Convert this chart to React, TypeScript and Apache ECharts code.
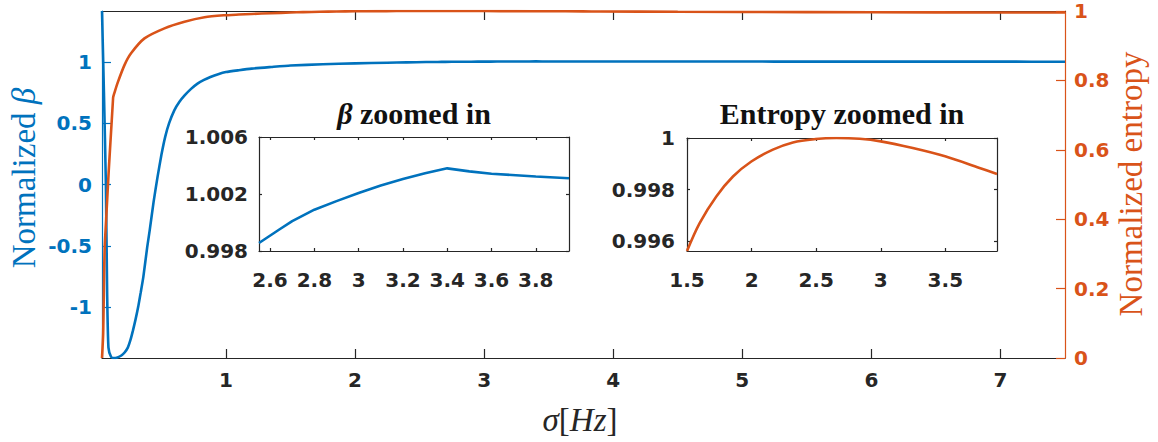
import React, { useEffect, useRef } from "react";
import * as echarts from "echarts";

// Normalized β against σ [Hz]
const betaSigma = [
  0.04, 0.055, 0.07, 0.08, 0.09, 0.11, 0.13, 0.16, 0.19, 0.215, 0.24, 0.26, 0.28, 0.3, 0.32, 0.34,
  0.36, 0.39, 0.41, 0.44, 0.47, 0.5, 0.53, 0.56, 0.6, 0.64, 0.68, 0.73, 0.78, 0.83, 0.88, 0.94,
  1.0, 1.1, 1.2, 1.35, 1.5, 1.75, 2.0, 2.25, 2.4, 2.55, 2.64, 2.7, 2.8, 2.9, 3.0, 3.1, 3.2, 3.3,
  3.4, 3.5, 3.6, 3.8, 3.95, 4.5, 5.0, 5.5, 6.0, 6.5, 7.0, 7.5,
];
const betaValues = [
  1.415, 0.75, 0.0, -0.9, -1.33, -1.405, -1.415, -1.41, -1.395, -1.37, -1.33, -1.27, -1.19, -1.1, -1.0, -0.88,
  -0.755, -0.513, -0.37, -0.14, 0.06, 0.24, 0.39, 0.5, 0.605, 0.675, 0.727, 0.78, 0.823, 0.853, 0.877, 0.9,
  0.917, 0.932, 0.945, 0.958, 0.97, 0.981, 0.988, 0.9935, 0.9962, 0.99856, 0.99949, 1.0001, 1.0009, 1.0015, 1.00207, 1.0026, 1.00305, 1.00345,
  1.0038, 1.00359, 1.00342, 1.00323, 1.0031, 1.0028, 1.0026, 1.0024, 1.0022, 1.002, 1.0018, 1.0016,
];

// Normalized entropy against σ [Hz]
const entropySigma = [
  0.04, 0.049, 0.062, 0.126, 0.137, 0.163, 0.214, 0.265, 0.369, 0.524, 0.679, 0.834, 0.983, 1.1, 1.2, 1.35,
  1.5, 1.598, 1.727, 1.856, 1.998, 2.165, 2.32, 2.495, 2.655, 2.837, 3.0, 3.248, 3.498, 3.765, 3.9,
  4.5, 5.5, 6.5, 7.5,
];
const entropyValues = [
  0, 0.07, 0.33, 0.75, 0.765, 0.795, 0.844, 0.878, 0.921, 0.95, 0.969, 0.982, 0.9876, 0.9898, 0.9915, 0.9937,
  0.99563, 0.99671, 0.99774, 0.99851, 0.99909, 0.99955, 0.99983, 0.99996, 1.0, 0.99997, 0.99987, 0.99961, 0.99929, 0.99884, 0.99861,
  0.9977, 0.9968, 0.9961, 0.9955,
];

// Tick positions
const sigmaTicks = [1, 2, 3, 4, 5, 6, 7];
const betaTicks = [-1, -0.5, 0, 0.5, 1];
const entropyTicks = [0, 0.2, 0.4, 0.6, 0.8, 1];
const betaZoomSigmaTicks = [2.6, 2.8, 3, 3.2, 3.4, 3.6, 3.8];
const betaZoomTicks = [0.998, 1.002, 1.006];
const entropyZoomSigmaTicks = [1.5, 2, 2.5, 3, 3.5];
const entropyZoomTicks = [0.996, 0.998, 1];

const BLUE = "#0072BD";
const ORANGE = "#D95319";
const DARK = "#262626";
const TICK_FONT = "DejaVu Sans";
const SERIF = "Liberation Serif";

const pairs = (xs: number[], ys: number[]) => xs.map((x, i) => [x, ys[i]]);
const within = (pts: number[][], lo: number, hi: number) =>
  pts.filter((p) => p[0] >= lo - 1e-9 && p[0] <= hi + 1e-9);
const fmt = (v: number) => String(+Number(v).toFixed(4));

type AxisOpts = {
  gridIndex: number;
  min: number;
  max: number;
  ticks: number[];
  position: string;
  color: string;
  tickLen: number;
  labels: boolean;
  margin?: number;
};

const makeAxis = (o: AxisOpts) => ({
  type: "value",
  gridIndex: o.gridIndex,
  position: o.position,
  min: o.min,
  max: o.max,
  z: 10,
  splitLine: { show: false },
  axisLine: { show: true, onZero: false, lineStyle: { color: o.color, width: 1.2 } },
  axisTick: {
    show: true,
    inside: true,
    length: o.tickLen,
    customValues: o.ticks,
    lineStyle: { color: o.color, width: 1.2 },
  },
  axisLabel: {
    show: o.labels,
    customValues: o.ticks,
    margin: o.margin ?? 8,
    color: o.color,
    fontFamily: TICK_FONT,
    fontWeight: "bold",
    fontSize: 20,
    formatter: (v: number) => fmt(v),
  },
});

export default function App() {
  const ref = useRef<HTMLDivElement>(null);

  useEffect(() => {
    if (!ref.current) return;
    const chart = echarts.init(ref.current, undefined, { renderer: "svg" });

    const betaPts = pairs(betaSigma, betaValues);
    const entropyPts = pairs(entropySigma, entropyValues);

    const option = {
      animation: false,
      backgroundColor: "#ffffff",
      grid: [
        { left: 102, top: 11, width: 963, height: 347, show: false },
        { left: 259, top: 137, width: 310, height: 114, show: true, backgroundColor: "#ffffff", borderWidth: 0 },
        { left: 687, top: 138, width: 310, height: 113, show: true, backgroundColor: "#ffffff", borderWidth: 0 },
      ],
      xAxis: [
        makeAxis({ gridIndex: 0, min: 0.04, max: 7.5, ticks: sigmaTicks, position: "bottom", color: DARK, tickLen: 9, labels: true, margin: 12 }),
        makeAxis({ gridIndex: 0, min: 0.04, max: 7.5, ticks: sigmaTicks, position: "top", color: DARK, tickLen: 9, labels: false }),
        makeAxis({ gridIndex: 1, min: 2.55, max: 3.95, ticks: betaZoomSigmaTicks, position: "bottom", color: DARK, tickLen: 3, labels: true, margin: 19 }),
        makeAxis({ gridIndex: 1, min: 2.55, max: 3.95, ticks: betaZoomSigmaTicks, position: "top", color: DARK, tickLen: 3, labels: false }),
        makeAxis({ gridIndex: 2, min: 1.5, max: 3.9, ticks: entropyZoomSigmaTicks, position: "bottom", color: DARK, tickLen: 3, labels: true, margin: 19 }),
        makeAxis({ gridIndex: 2, min: 1.5, max: 3.9, ticks: entropyZoomSigmaTicks, position: "top", color: DARK, tickLen: 3, labels: false }),
      ],
      yAxis: [
        makeAxis({ gridIndex: 0, min: -1.415, max: 1.415, ticks: betaTicks, position: "left", color: BLUE, tickLen: 9, labels: true, margin: 10 }),
        makeAxis({ gridIndex: 0, min: 0, max: 1, ticks: entropyTicks, position: "right", color: ORANGE, tickLen: 9, labels: true, margin: 9 }),
        makeAxis({ gridIndex: 1, min: 0.998, max: 1.006, ticks: betaZoomTicks, position: "left", color: DARK, tickLen: 3, labels: true, margin: 11 }),
        makeAxis({ gridIndex: 1, min: 0.998, max: 1.006, ticks: betaZoomTicks, position: "right", color: DARK, tickLen: 3, labels: false }),
        makeAxis({ gridIndex: 2, min: 0.99563, max: 1, ticks: entropyZoomTicks, position: "left", color: DARK, tickLen: 3, labels: true, margin: 12 }),
        makeAxis({ gridIndex: 2, min: 0.99563, max: 1, ticks: entropyZoomTicks, position: "right", color: DARK, tickLen: 3, labels: false }),
      ],
      series: [
        {
          type: "line",
          xAxisIndex: 0,
          yAxisIndex: 0,
          data: betaPts,
          showSymbol: false,
          clip: true,
          smooth: 0.2,
          lineStyle: { color: BLUE, width: 2.6 },
          itemStyle: { color: BLUE },
          z: 12,
        },
        {
          type: "line",
          xAxisIndex: 0,
          yAxisIndex: 1,
          data: entropyPts,
          showSymbol: false,
          clip: true,
          smooth: 0.2,
          lineStyle: { color: ORANGE, width: 2.6 },
          itemStyle: { color: ORANGE },
          z: 13,
        },
        {
          type: "line",
          xAxisIndex: 2,
          yAxisIndex: 2,
          data: within(betaPts, 2.55, 3.95),
          showSymbol: false,
          clip: true,
          lineStyle: { color: BLUE, width: 2.6 },
          itemStyle: { color: BLUE },
          z: 14,
        },
        {
          type: "line",
          xAxisIndex: 4,
          yAxisIndex: 4,
          data: within(entropyPts, 1.5, 3.9),
          showSymbol: false,
          clip: true,
          smooth: 0.35,
          lineStyle: { color: ORANGE, width: 2.6 },
          itemStyle: { color: ORANGE },
          z: 14,
        },
      ],
      graphic: [
        {
          type: "text",
          x: 24,
          y: 178,
          rotation: Math.PI / 2,
          style: {
            text: "Normalized {b|β}",
            fill: BLUE,
            fontFamily: SERIF,
            fontSize: 33,
            textAlign: "center",
            textVerticalAlign: "middle",
            rich: { b: { fill: BLUE, fontFamily: SERIF, fontSize: 33, fontStyle: "italic" } },
          },
        },
        {
          type: "text",
          x: 1131,
          y: 184,
          rotation: Math.PI / 2,
          style: {
            text: "Normalized entropy",
            fill: ORANGE,
            fontFamily: SERIF,
            fontSize: 33,
            textAlign: "center",
            textVerticalAlign: "middle",
          },
        },
        {
          type: "text",
          x: 580,
          y: 420,
          style: {
            text: "{i|σ}{u|[}{i|Hz}{u|]}",
            fill: DARK,
            fontFamily: SERIF,
            fontSize: 33,
            textAlign: "center",
            textVerticalAlign: "middle",
            rich: {
              i: { fill: DARK, fontFamily: SERIF, fontSize: 33, fontStyle: "italic" },
              u: { fill: DARK, fontFamily: SERIF, fontSize: 33 },
            },
          },
        },
        {
          type: "text",
          x: 414,
          y: 113,
          style: {
            text: "{i|β} zoomed in",
            fill: "#111111",
            fontFamily: SERIF,
            fontSize: 30,
            fontWeight: "bold",
            textAlign: "center",
            textVerticalAlign: "middle",
            rich: {
              i: { fill: "#111111", fontFamily: SERIF, fontSize: 30, fontWeight: "bold", fontStyle: "italic" },
            },
          },
        },
        {
          type: "text",
          x: 842,
          y: 113,
          style: {
            text: "Entropy zoomed in",
            fill: "#111111",
            fontFamily: SERIF,
            fontSize: 30,
            fontWeight: "bold",
            textAlign: "center",
            textVerticalAlign: "middle",
          },
        },
      ],
    };

    chart.setOption(option as any);
    return () => chart.dispose();
  }, []);

  return (
    <div
      ref={ref}
      style={{ position: "fixed", left: 0, top: 0, width: 1158, height: 442, background: "#ffffff" }}
    />
  );
}
